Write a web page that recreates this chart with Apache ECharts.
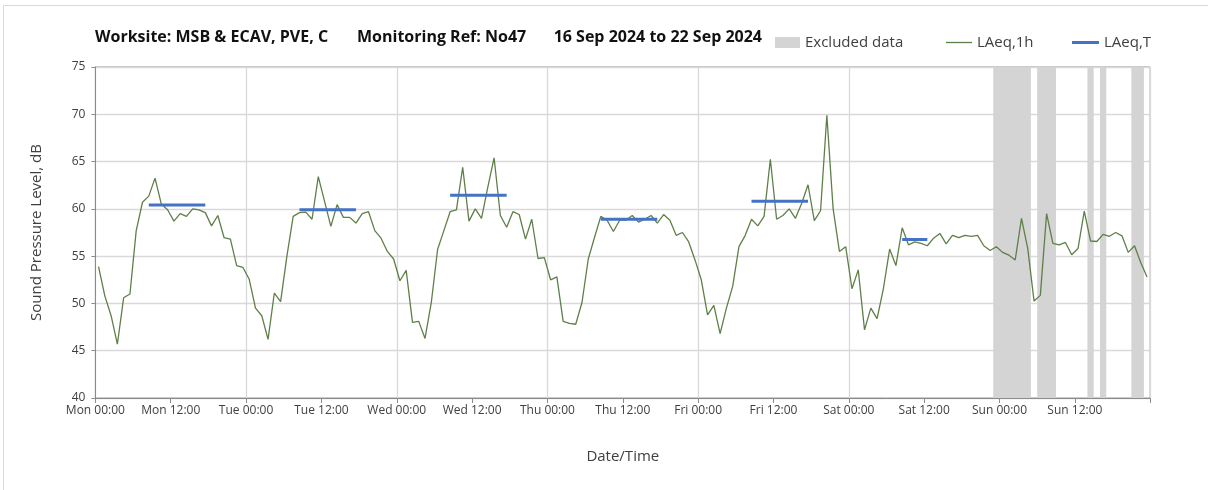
<!DOCTYPE html>
<html>
<head>
<meta charset="utf-8">
<script src="https://cdn.jsdelivr.net/npm/echarts@6/dist/echarts.min.js"></script>
<style>
html,body{margin:0;padding:0;background:#fff;}
#chart{width:1208px;height:490px;}
</style>
</head>
<body>
<div id="chart"></div>
<script>
// ---- DATA ----
const titleParts = ['Worksite: MSB & ECAV, PVE, C', 'Monitoring Ref: No47', '16 Sep 2024 to 22 Sep 2024'];
const tickLabels = ['Mon 00:00','Mon 12:00','Tue 00:00','Tue 12:00','Wed 00:00','Wed 12:00','Thu 00:00',
  'Thu 12:00','Fri 00:00','Fri 12:00','Sat 00:00','Sat 12:00','Sun 00:00','Sun 12:00',''];

// LAeq,1h hourly values (hour 00 .. 23) for each day
const mon = [53.9, 50.8, 48.7, 45.7, 50.6, 51.0, 57.7, 60.7, 61.35, 63.25, 60.5, 59.9, 58.7, 59.5, 59.2, 60.0, 59.9, 59.6, 58.2, 59.3, 56.95, 56.8, 54.0, 53.8];
const tue = [52.55, 49.5, 48.7, 46.2, 51.1, 50.2, 55.0, 59.2, 59.6, 59.65, 58.9, 63.4, 60.8, 58.15, 60.45, 59.1, 59.1, 58.5, 59.5, 59.7, 57.7, 56.9, 55.5, 54.7];
const wed = [52.4, 53.5, 48.0, 48.1, 46.3, 50.1, 55.7, 57.7, 59.7, 59.9, 64.4, 58.7, 60.0, 59.0, 62.3, 65.4, 59.3, 58.05, 59.7, 59.4, 56.8, 58.9, 54.75, 54.85];
const thu = [52.5, 52.8, 48.1, 47.9, 47.8, 50.1, 54.7, 57.0, 59.2, 58.8, 57.6, 58.8, 58.8, 59.3, 58.6, 58.9, 59.3, 58.5, 59.4, 58.8, 57.2, 57.5, 56.5, 54.6];
const fri = [52.5, 48.8, 49.8, 46.8, 49.5, 51.8, 56.0, 57.2, 58.9, 58.2, 59.2, 65.25, 58.9, 59.3, 60.0, 59.0, 60.6, 62.55, 58.75, 59.8, 69.9, 60.0, 55.5, 56.0];
const sat = [51.55, 53.55, 47.2, 49.5, 48.4, 51.55, 55.75, 54.0, 58.0, 56.2, 56.5, 56.35, 56.1, 56.9, 57.4, 56.3, 57.2, 56.95, 57.2, 57.1, 57.2, 56.1, 55.6, 56.0];
const sun = [55.4, 55.1, 54.6, 59.0, 55.8, 50.25, 50.85, 59.5, 56.35, 56.2, 56.45, 55.15, 55.8, 59.75, 56.6, 56.55, 57.3, 57.1, 57.5, 57.15, 55.4, 56.1, 54.3, 52.8];

// LAeq,T periods: day index, start hour, end hour, level
const tDay   = [0, 1, 2, 3, 4, 5];
const tStart = [8, 8, 8, 8, 8, 8];
const tEnd   = [18, 18, 18, 18, 18, 13];
const tValue = [60.4, 59.9, 61.45, 58.9, 60.8, 56.75];

// Excluded data periods (hours from Mon 00:00)
const exclStart = [143, 150, 158, 160, 165];
const exclEnd   = [149, 153, 159, 161, 167];

// ---- BUILD ----
const days = [mon, tue, wed, thu, fri, sat, sun];
const hourly = [];
days.forEach((d, di) => d.forEach((v, h) => hourly.push([di * 24 + h + 0.5, v])));

const FONT = '"Open Sans"';
const TXT = '#404040';
const GREEN = '#5f7f48';
const BLUE = '#4472c4';
const GREY = '#d4d4d4';

const tSeries = tDay.map((d, i) => ({
  name: 'LAeq,T', type: 'line', xAxisIndex: 1, symbol: 'none', z: 5,
  lineStyle: { color: BLUE, width: 3 }, itemStyle: { color: BLUE },
  data: [[d * 24 + tStart[i] + 0.5, tValue[i]], [d * 24 + tEnd[i] - 0.5, tValue[i]]]
}));

const legendText = { fontSize: 15, color: TXT, fontFamily: FONT };
const titlePos = [{ left: 95 }, { left: 357 }, { right: 446 }];

const chart = echarts.init(document.getElementById('chart'), null, { renderer: 'canvas' });
chart.setOption({
  animation: false,
  backgroundColor: '#fff',
  textStyle: { fontFamily: FONT },
  graphic: [
    { type: 'rect', shape: { x: 3.5, y: 5.5, width: 1220, height: 500 }, style: { fill: 'none', stroke: '#d9d9d9', lineWidth: 1 }, z: -10 },
    ...titleParts.map((t, i) => Object.assign({ type: 'text', top: 29,
      style: { text: t, font: 'bold 16px ' + FONT, fill: '#111' } }, titlePos[i]))
  ],
  legend: [
    { left: 770, top: 30, itemWidth: 25, itemHeight: 11, selectedMode: false, textStyle: legendText,
      data: [{ name: 'Excluded data', icon: 'rect', itemStyle: { color: GREY } }] },
    { left: 941, top: 30, itemWidth: 26, itemHeight: 1.3, selectedMode: false, textStyle: legendText,
      data: [{ name: 'LAeq,1h', icon: 'rect', itemStyle: { color: GREEN } }] },
    { left: 1067, top: 30, itemWidth: 27, itemHeight: 3, selectedMode: false, textStyle: legendText,
      data: [{ name: 'LAeq,T', icon: 'rect', itemStyle: { color: BLUE } }] }
  ],
  grid: { left: 95.4, right: 57.8, top: 67, bottom: 92, show: true, borderColor: '#8c8c8c', borderWidth: 1, backgroundColor: 'transparent' },
  xAxis: [
    { type: 'value', min: 0, max: 168, interval: 24,
      axisLine: { show: false }, axisTick: { show: false }, axisLabel: { show: false },
      splitLine: { show: true, lineStyle: { color: '#d9d9d9', width: 1.3 } } },
    { type: 'value', min: 0, max: 168, interval: 12, position: 'bottom',
      name: 'Date/Time', nameLocation: 'middle', nameGap: 51,
      nameTextStyle: { fontSize: 15, color: TXT, fontFamily: FONT },
      axisLine: { show: true, lineStyle: { color: '#8c8c8c', width: 1 } },
      axisTick: { show: true, length: 5, lineStyle: { color: '#8c8c8c' } },
      axisLabel: { show: true, margin: 7, fontSize: 12, color: TXT, fontFamily: FONT,
        formatter: v => tickLabels[Math.round(v / 12)] || '' },
      splitLine: { show: false } }
  ],
  yAxis: {
    type: 'value', min: 40, max: 75, interval: 5,
    name: 'Sound Pressure Level, dB', nameLocation: 'middle', nameGap: 51,
    nameTextStyle: { fontSize: 15, color: TXT, fontFamily: FONT },
    axisLine: { show: true, lineStyle: { color: '#8c8c8c' } },
    axisTick: { show: true, length: 4, lineStyle: { color: '#8c8c8c' } },
    axisLabel: { margin: 10, fontSize: 12, color: TXT, fontFamily: FONT },
    splitLine: { show: true, lineStyle: { color: '#d9d9d9', width: 1.3 } }
  },
  series: [
    { name: 'Excluded data', type: 'custom', xAxisIndex: 1, z: 1,
      data: exclStart.map((s, i) => [s, exclEnd[i]]),
      encode: { x: [0, 1] },
      itemStyle: { color: GREY },
      renderItem: (params, api) => {
        const a = api.coord([api.value(0), 75]);
        const b = api.coord([api.value(1), 40]);
        return { type: 'rect', shape: { x: a[0], y: a[1], width: b[0] - a[0], height: b[1] - a[1] },
                 style: { fill: GREY } };
      } },
    { name: 'LAeq,1h', type: 'line', xAxisIndex: 1, symbol: 'none', z: 4,
      lineStyle: { color: GREEN, width: 1.3 }, itemStyle: { color: GREEN },
      data: hourly },
    ...tSeries
  ]
});
</script>
</body>
</html>
